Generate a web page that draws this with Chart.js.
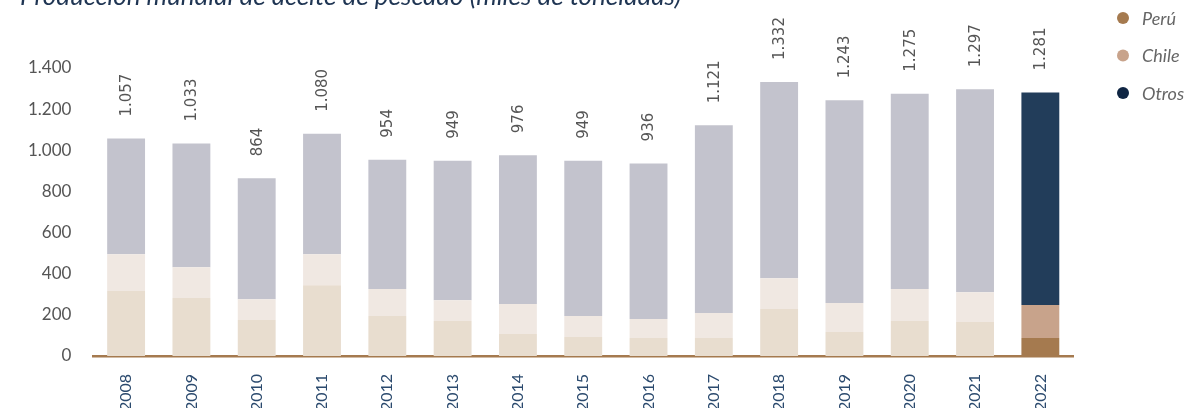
<!DOCTYPE html>
<html lang="es">
<head>
<meta charset="utf-8">
<title>Producción mundial de aceite de pescado</title>
<script src="https://cdn.jsdelivr.net/npm/chart.js@4/dist/chart.umd.min.js"></script>
<style>
  html, body { margin: 0; padding: 0; background: #fff; }
  #wrap { position: relative; width: 1188px; height: 408px; }
</style>
</head>
<body>
<div id="wrap"><canvas id="Chart"></canvas></div>
<script>
const years = ["2008", "2009", "2010", "2011", "2012", "2013", "2014", "2015", "2016", "2017", "2018", "2019", "2020", "2021", "2022"];
const totals = [1057, 1033, 864, 1080, 954, 949, 976, 949, 936, 1121, 1332, 1243, 1275, 1297, 1281];
const peru = [315, 281, 174, 344, 194, 170, 107, 92, 87, 87, 228, 116, 170, 165, 87];
const chile = [179, 150, 102, 150, 131, 101, 145, 102, 92, 121, 150, 141, 155, 145, 160];
const otros = totals.map((t, i) => t - peru[i] - chile[i]);
const yTicks = [0, 200, 400, 600, 800, 1000, 1200, 1400];

const titleText = "Producción mundial de aceite de pescado (miles de toneladas)";

// only the last year is shown in full colour
function colours(full, faded) {
  return years.map((y, i) => (i === years.length - 1 ? full : faded));
}

function miles(v) {
  return String(v).replace(/\B(?=(\d{3})+(?!\d))/g, ".");
}

const series = [
  { label: "Perú", data: peru, full: "#a57a4f", faded: "#e8ddcf", dot: "#a57a4f" },
  { label: "Chile", data: chile, full: "#c8a38b", faded: "#f0e8e2", dot: "#c8a38b" },
  { label: "Otros", data: otros, full: "#223d5a", faded: "#c3c3cd", dot: "#0f2543" },
];

const extras = {
  id: "extras",
  afterDatasetsDraw(chart) {
    const { ctx } = chart;
    const top = chart.getDatasetMeta(2).data;
    ctx.save();
    ctx.font = "15px 'DejaVu Sans'";
    ctx.fillStyle = "#555555";
    ctx.textAlign = "left";
    ctx.textBaseline = "middle";
    top.forEach((bar, i) => {
      ctx.save();
      ctx.translate(bar.x + 1, bar.y - 22);
      ctx.rotate(-Math.PI / 2);
      ctx.fillText(miles(totals[i]), 0, 0);
      ctx.restore();
    });

    // title, partly off the top edge
    ctx.font = "italic 26px Lato";
    ctx.fillStyle = "#1f3553";
    ctx.textBaseline = "alphabetic";
    ctx.fillText(titleText, 20, 5);

    // legend
    ctx.font = "italic 18px Lato";
    series.forEach((s, i) => {
      const y = 18 + i * 37.5;
      ctx.fillStyle = s.dot;
      ctx.beginPath();
      ctx.arc(1123, y, 6, 0, Math.PI * 2);
      ctx.fill();
      ctx.fillStyle = "#666666";
      ctx.textBaseline = "middle";
      ctx.fillText(s.label, 1142, y + 1);
    });
    ctx.restore();
  },
};

new Chart(document.getElementById("Chart"), {
  type: "bar",
  data: {
    labels: years,
    datasets: series.map((s) => ({
      label: s.label,
      data: s.data,
      backgroundColor: colours(s.full, s.faded),
      borderWidth: 0,
      barPercentage: 0.58,
      categoryPercentage: 1,
    })),
  },
  options: {
    responsive: true,
    maintainAspectRatio: false,
    animation: false,
    layout: { padding: { left: 14, right: 115, top: 68, bottom: -13 } },
    plugins: {
      legend: { display: false },
      tooltip: { enabled: false },
    },
    scales: {
      x: {
        stacked: true,
        grid: { display: false },
        border: { display: true, color: "#a57a4f", width: 2.5 },
        ticks: {
          color: "#2b4a6e",
          font: { family: "Lato", size: 16 },
          minRotation: 90,
          maxRotation: 90,
          padding: 10,
        },
      },
      y: {
        stacked: true,
        min: 0,
        max: 1400,
        afterBuildTicks(scale) {
          scale.ticks = yTicks.map((v) => ({ value: v }));
        },
        grid: { display: false },
        border: { display: false },
        ticks: {
          color: "#555555",
          font: { family: "Lato", size: 17 },
          padding: 14,
          callback: (v) => miles(v),
        },
      },
    },
  },
  plugins: [extras],
});
</script>
</body>
</html>
